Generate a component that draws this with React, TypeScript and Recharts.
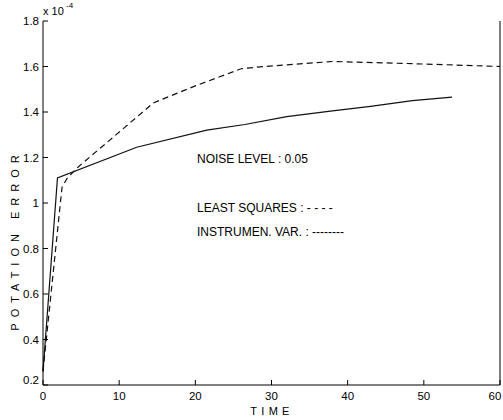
import { LineChart, Line, XAxis, YAxis } from "recharts"

// time / error (x 10^-4)
const lsTime = [0, 2.5, 3.2, 4.5, 14.5, 20, 26, 28, 38, 49, 60]
const lsError = [0.26, 1.07, 1.11, 1.155, 1.44, 1.515, 1.59, 1.597, 1.622, 1.612, 1.6]
const ivTime = [0, 1.9, 12.3, 21.5, 26.5, 32, 38, 43, 48.5, 53.7]
const ivError = [0.26, 1.11, 1.245, 1.32, 1.345, 1.38, 1.405, 1.425, 1.45, 1.465]

const xTicks = [0, 10, 20, 30, 40, 50, 60]
const yTicks = [0.2, 0.4, 0.6, 0.8, 1, 1.2, 1.4, 1.6, 1.8]

const FONT = "'Liberation Sans', Arial, Helvetica, sans-serif"
const TICK = 5

const lsData = lsTime.map((t, i) => ({ t, v: lsError[i] }))
const ivData = ivTime.map((t, i) => ({ t, v: ivError[i] }))

const fmtY = (v: number) => (v === 1 ? "1" : v.toFixed(1))

// ticks point inwards, so each tick draws its own line
const LeftTick = ({ x, y, payload }: any) => (
  <g>
    <line x1={x} y1={y} x2={x + TICK} y2={y} stroke="#000" />
    <text
      x={x - 4}
      y={payload.value === 0.2 ? y - 5 : y}
      dy="0.35em"
      textAnchor="end"
      fontSize={11.5}
      fontFamily={FONT}
      fill="#000"
    >
      {fmtY(payload.value)}
    </text>
  </g>
)

const RightTick = ({ x, y }: any) => <line x1={x} y1={y} x2={x - TICK} y2={y} stroke="#000" />

const BottomTick = ({ x, y, payload }: any) => (
  <g>
    <line x1={x} y1={y} x2={x} y2={y - TICK} stroke="#000" />
    {/* last label pulled in a little so it stays inside the window */}
    <text
      x={payload.value === 60 ? x - 5 : x}
      y={y + 15}
      textAnchor="middle"
      fontSize={11.5}
      fontFamily={FONT}
      fill="#000"
    >
      {payload.value}
    </text>
  </g>
)

const TopTick = ({ x, y }: any) => <line x1={x} y1={y} x2={x} y2={y + TICK} stroke="#000" />

export default function App() {
  return (
    <div style={{ position: "absolute", left: 0, top: 0, width: 503, height: 420, background: "#fff" }}>
      <LineChart width={503} height={420} margin={{ top: 21, right: 0, bottom: 0, left: 0 }}>
        <XAxis
          xAxisId="bottom"
          dataKey="t"
          type="number"
          domain={[0, 60]}
          ticks={xTicks}
          height={35}
          tickSize={0}
          tickMargin={0}
          tickLine={false}
          axisLine={{ stroke: "#000" }}
          tick={<BottomTick />}
          interval={0}
        />
        <XAxis
          xAxisId="top"
          orientation="top"
          dataKey="t"
          type="number"
          domain={[0, 60]}
          ticks={xTicks}
          height={0}
          tickSize={0}
          tickMargin={0}
          tickLine={false}
          axisLine={{ stroke: "#000" }}
          tick={<TopTick />}
          interval={0}
        />
        <YAxis
          yAxisId="left"
          type="number"
          domain={[0.2, 1.8]}
          ticks={yTicks}
          width={43}
          tickSize={0}
          tickMargin={0}
          tickLine={false}
          axisLine={{ stroke: "#000" }}
          tick={<LeftTick />}
          interval={0}
        />
        <YAxis
          yAxisId="right"
          orientation="right"
          type="number"
          domain={[0.2, 1.8]}
          ticks={yTicks}
          width={3}
          tickSize={0}
          tickMargin={0}
          tickLine={false}
          axisLine={{ stroke: "#000" }}
          tick={<RightTick />}
          interval={0}
        />
        <Line
          xAxisId="bottom"
          yAxisId="left"
          data={lsData}
          dataKey="v"
          type="linear"
          stroke="#111"
          strokeWidth={1.2}
          strokeDasharray="6 4"
          dot={false}
          isAnimationActive={false}
        />
        <Line
          xAxisId="bottom"
          yAxisId="left"
          data={ivData}
          dataKey="v"
          type="linear"
          stroke="#111"
          strokeWidth={1.2}
          dot={false}
          isAnimationActive={false}
        />
      </LineChart>

      {/* titles and notes on top of the chart */}
      <svg
        width={503}
        height={420}
        style={{ position: "absolute", left: 0, top: 0, pointerEvents: "none" }}
        fontFamily={FONT}
        fill="#000"
      >
        <text x={43} y={15} fontSize={11}>x 10</text>
        <text x={66} y={8} fontSize={8}>-4</text>
        <text x={272} y={415} fontSize={11} textAnchor="middle" letterSpacing={4.3}>TIME</text>
        <text
          transform="translate(19, 240) rotate(-90)"
          fontSize={11}
          textAnchor="middle"
          letterSpacing={6}
        >
          POTATION ERROR
        </text>
        <text x={197} y={163} fontSize={12}>NOISE LEVEL : 0.05</text>
        <text x={197} y={212} fontSize={12}>LEAST SQUARES : - - - -</text>
        <text x={197} y={236} fontSize={12}>INSTRUMEN. VAR. : --------</text>
      </svg>
    </div>
  )
}
